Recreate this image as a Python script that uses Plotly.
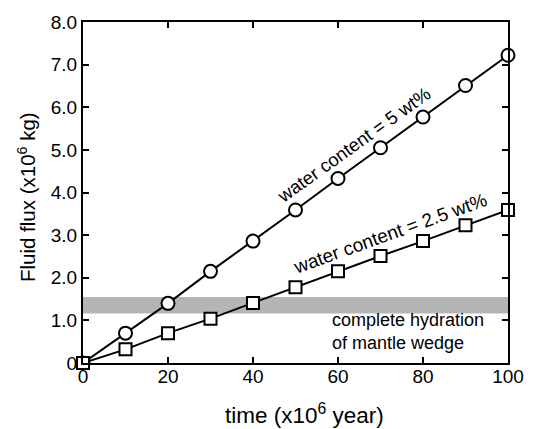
import plotly.graph_objects as go

time_myr = [0, 10, 20, 30, 40, 50, 60, 70, 80, 90, 100]
flux_5wt = [0, 0.70, 1.40, 2.15, 2.86, 3.59, 4.33, 5.05, 5.77, 6.51, 7.22]
flux_25wt = [0, 0.32, 0.70, 1.04, 1.41, 1.78, 2.15, 2.51, 2.86, 3.23, 3.59]
hydration_band = [1.16, 1.55]
x_ticks = [0, 20, 40, 60, 80, 100]
y_ticks = [0, 1, 2, 3, 4, 5, 6, 7, 8]
y_ticktext = ["0", "1.0", "2.0", "3.0", "4.0", "5.0", "6.0", "7.0", "8.0"]

FONT = "Liberation Sans, Arial, Helvetica, sans-serif"

fig = go.Figure()
fig.add_shape(type="rect", xref="x domain", yref="y", x0=0, x1=1,
              y0=hydration_band[0], y1=hydration_band[1],
              fillcolor="#b5b5b5", line_width=0, layer="below")

fig.add_trace(go.Scatter(x=time_myr, y=flux_5wt, mode="lines+markers",
                         line=dict(color="black", width=2),
                         marker=dict(symbol="circle", size=13, color="white",
                                     line=dict(color="black", width=2)),
                         cliponaxis=False, showlegend=False))
fig.add_trace(go.Scatter(x=time_myr, y=flux_25wt, mode="lines+markers",
                         line=dict(color="black", width=2),
                         marker=dict(symbol="square", size=12, color="white",
                                     line=dict(color="black", width=2)),
                         cliponaxis=False, showlegend=False))

fig.add_annotation(x=63.8, y=5.12, text="water content = 5 wt%", showarrow=False,
                   textangle=-35.6, font=dict(size=18.5, color="black", family=FONT))
fig.add_annotation(x=72.2, y=3.03, text="water content = 2.5 wt%", showarrow=False,
                   textangle=-19.7, font=dict(size=19, color="black", family=FONT))
fig.add_annotation(x=58.0, y=0.74, text="complete hydration<br>of mantle wedge",
                   showarrow=False, xanchor="left", yanchor="middle", align="left",
                   font=dict(size=18, color="black", family=FONT))

# axis titles
fig.add_annotation(xref="paper", yref="paper", x=0.52, y=-0.150,
                   text="time (x10<sup>6</sup> year)", showarrow=False,
                   xanchor="center", yanchor="middle",
                   font=dict(size=22.5, color="black", family=FONT))
fig.add_annotation(xref="paper", yref="paper", x=-0.133, y=0.488,
                   text="Fluid flux (x10<sup>6</sup> kg)", showarrow=False,
                   textangle=-90, xanchor="center", yanchor="middle",
                   font=dict(size=20.5, color="black", family=FONT))

axis_common = dict(showline=True, linecolor="black", linewidth=2, mirror="ticks",
                   ticks="inside", ticklen=6, tickwidth=2, tickcolor="black",
                   showgrid=False, zeroline=False,
                   tickfont=dict(size=19, color="black", family=FONT))

fig.update_xaxes(range=[0, 100], tickvals=x_ticks, ticklabelstandoff=-5, **axis_common)
fig.update_yaxes(range=[0, 8], tickvals=y_ticks, ticktext=y_ticktext, **axis_common)

fig.update_layout(width=536, height=429, plot_bgcolor="white", paper_bgcolor="white",
                  margin=dict(l=83, r=17, t=16, b=66),
                  font=dict(family=FONT, color="black"))

fig.write_html("out.html")
